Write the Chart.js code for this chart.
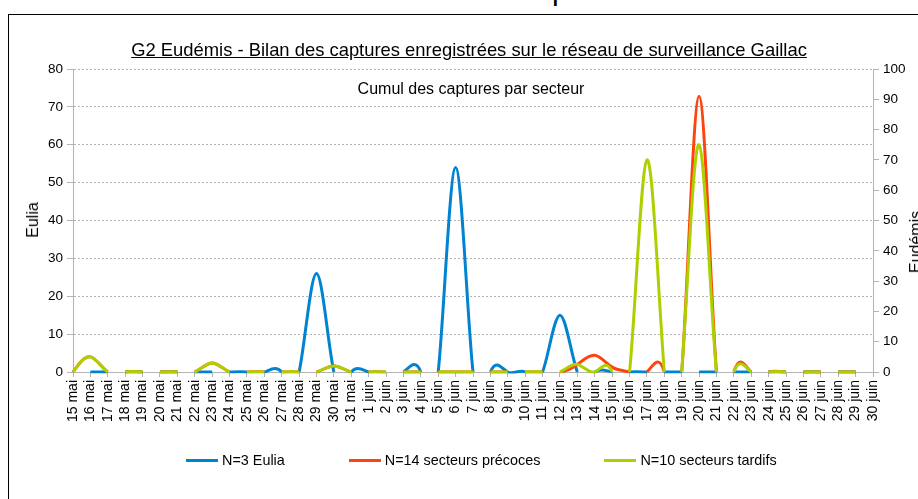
<!DOCTYPE html>
<html lang="fr">
<head>
<meta charset="utf-8">
<title>G2 Eudémis - Gaillac</title>
<script src="https://cdn.jsdelivr.net/npm/chart.js@4.4.1/dist/chart.umd.min.js"></script>
<style>
  html, body { margin: 0; padding: 0; background: #fff; }
  body { width: 918px; height: 499px; position: relative; overflow: hidden; font-family: "Liberation Sans", Arial, sans-serif; color: #000; }
  #frame { position: absolute; left: 8px; top: 14px; width: 1000px; height: 600px; border: 1px solid #000; box-sizing: border-box; }
  #chart { position: absolute; left: 0; top: 0; }
  .txt { position: absolute; white-space: nowrap; line-height: 1; }
  #cut { left: 552px; top: -25px; font-size: 30px; }
  #title { left: 0; width: 938px; top: 41px; text-align: center; font-size: 18.4px; text-decoration: underline; }
  #subtitle { left: 0; width: 942px; top: 81px; text-align: center; font-size: 16px; }
  #yTitle { left: 33px; top: 220px; font-size: 16px; transform: translate(-50%, -50%) rotate(-90deg); }
  #y1Title { left: 916px; top: 242px; font-size: 16px; transform: translate(-50%, -50%) rotate(-90deg); }
  #legend { position: absolute; left: 186px; top: 452px; display: flex; align-items: center; font-size: 14.4px; }
  #legend .item { display: flex; align-items: center; margin-right: 64px; }
  #legend .swatch { width: 32px; height: 3px; margin-right: 4px; }
</style>
</head>
<body>
<div class="txt" id="cut">p</div>
<div id="frame"></div>
<canvas id="chart" width="918" height="499"></canvas>
<div class="txt" id="title">G2 Eudémis - Bilan des captures enregistrées sur le réseau de surveillance Gaillac</div>
<div class="txt" id="subtitle">Cumul des captures par secteur</div>
<div class="txt" id="yTitle">Eulia</div>
<div class="txt" id="y1Title">Eudémis</div>
<div id="legend"></div>

<script>
const days = [
  "15 mai", "16 mai", "17 mai", "18 mai", "19 mai", "20 mai", "21 mai", "22 mai", "23 mai",
  "24 mai", "25 mai", "26 mai", "27 mai", "28 mai", "29 mai", "30 mai", "31 mai",
  "1 juin", "2 juin", "3 juin", "4 juin", "5 juin", "6 juin", "7 juin", "8 juin", "9 juin", "10 juin",
  "11 juin", "12 juin", "13 juin", "14 juin", "15 juin", "16 juin", "17 juin", "18 juin", "19 juin", "20 juin",
  "21 juin", "22 juin", "23 juin", "24 juin", "25 juin", "26 juin", "27 juin", "28 juin", "29 juin", "30 juin"
];

// N=3 Eulia (axe de gauche)
const eulia = [
  0, 0, 0, 0, 0, 0, 0, 0, 0, 0, 0, 0, 0, 0, 26, 0, 0,
  0, 0, 0, 0, 0, 54, 0, 0, 0, 0, 0, 15, 0, 0, 0, 0, 0, 0, 0, 0, 0, 0, 0, 0, 0, 0, 0, 0, 0, 0
];

// N=14 secteurs précoces (axe de droite)
const precoces = [
  0, 5, 0, 0, 0, 0, 0, 0, 3, 0, 0, 0, 0, 0, 0, 2, 0,
  0, 0, 0, 0, 0, 0, 0, 0, 0, 0, 0, 0, 2.5, 5.5, 1.6, 0, 0, 0, 0, 91, 0, 0, 0, 0, 0, 0, 0, 0, 0, 0
];

// N=10 secteurs tardifs (axe de droite)
const tardifs = [
  0, 5, 0, 0, 0, 0, 0, 0, 3, 0, 0, 0, 0, 0, 0, 2, 0,
  0, 0, 0, 0, 0, 0, 0, 0, 0, 0, 0, 0, 2.5, 0, 0, 0, 70, 0, 0, 75, 0, 0, 0, 0, 0, 0, 0, 0, 0, 0
];

const leftTicks = [0, 10, 20, 30, 40, 50, 60, 70, 80];
const rightTicks = [0, 10, 20, 30, 40, 50, 60, 70, 80, 90, 100];

const FONT = '"Liberation Sans", Arial, sans-serif';
const GRID = "#b3b3b3";

// second derivatives of a natural cubic spline (uniform spacing h)
function splineM(ys, h) {
  const n = ys.length - 1;
  const M = new Array(n + 1).fill(0);
  if (n < 2) return M;
  const cp = new Array(n).fill(0);
  const dp = new Array(n).fill(0);
  for (let i = 1; i < n; i++) {
    const rhs = 6 * (ys[i - 1] - 2 * ys[i] + ys[i + 1]) / (h * h);
    const b = 4 - (i > 1 ? cp[i - 1] : 0);
    cp[i] = 1 / b;
    dp[i] = (rhs - (i > 1 ? dp[i - 1] : 0)) / b;
  }
  M[n - 1] = dp[n - 1];
  for (let i = n - 2; i >= 1; i--) M[i] = dp[i] - cp[i] * M[i + 1];
  return M;
}

// like the spreadsheet: the curve is a natural spline and is cut where it goes under 0
function hideUnderZero(values) {
  const M = splineM(values, 1);
  return (ctx) => {
    const i = ctx.p0DataIndex, j = ctx.p1DataIndex;
    if (values[i] === 0 && values[j] === 0 && M[i] + M[j] > 0) return "transparent";
    return undefined;
  };
}

const naturalSpline = {
  id: "naturalSpline",
  beforeDatasetDraw(chart, args) {
    const meta = args.meta;
    const pts = meta.data;
    if (pts.length < 3) return;
    const h = pts[1].x - pts[0].x;
    const ys = pts.map((p) => p.y);
    const M = splineM(ys, h);
    const n = pts.length - 1;
    pts.forEach((p, i) => {
      const d = i < n
        ? (ys[i + 1] - ys[i]) / h - h * (2 * M[i] + M[i + 1]) / 6
        : (ys[n] - ys[n - 1]) / h + h * (M[n - 1] + 2 * M[n]) / 6;
      p.cp1x = p.x - h / 3;
      p.cp1y = p.y - d * h / 3;
      p.cp2x = p.x + h / 3;
      p.cp2y = p.y + d * h / 3;
    });
    meta.dataset._pointsUpdated = true;
  }
};

function series(label, data, color, axis, order) {
  return {
    label,
    data,
    yAxisID: axis,
    order,
    borderColor: color,
    backgroundColor: color,
    borderWidth: 3,
    pointRadius: 0,
    pointHoverRadius: 0,
    pointBorderWidth: 0,
    tension: 0.4,
    fill: false,
    clip: { left: 2, top: 5, right: 2, bottom: 1.5 },
    segment: { borderColor: hideUnderZero(data) }
  };
}

Chart.defaults.font.family = FONT;
Chart.defaults.color = "#000";

const chart = new Chart(document.getElementById("chart"), {
  type: "line",
  data: {
    labels: days,
    datasets: [
      series("N=3 Eulia", eulia, "#0084d1", "y", 2),
      series("N=14 secteurs précoces", precoces, "#ff420e", "y1", 1),
      series("N=10 secteurs tardifs", tardifs, "#aecf00", "y1", 0)
    ]
  },
  options: {
    responsive: false,
    animation: false,
    devicePixelRatio: 1,
    layout: { padding: { top: 69, left: 0, right: 0, bottom: 0 } },
    plugins: {
      legend: { display: false },
      title: { display: false },
      tooltip: { enabled: false }
    },
    scales: {
      x: {
        offset: false,
        grid: { drawOnChartArea: false, tickLength: 5, color: GRID },
        border: { color: GRID },
        ticks: { autoSkip: false, minRotation: 90, maxRotation: 90, padding: 3, font: { size: 14 }, color: "#000" },
        afterFit: (s) => { s.height = 127; }
      },
      y: {
        position: "left",
        min: leftTicks[0],
        max: leftTicks[leftTicks.length - 1],
        afterBuildTicks: (s) => { s.ticks = leftTicks.map((v) => ({ value: v })); },
        grid: { color: GRID, tickLength: 6 },
        border: { color: GRID, dash: [2, 2] },
        ticks: { padding: 4, font: { size: 13.5 }, color: "#000" },
        afterFit: (s) => { s.width = 73; }
      },
      y1: {
        position: "right",
        min: rightTicks[0],
        max: rightTicks[rightTicks.length - 1],
        afterBuildTicks: (s) => { s.ticks = rightTicks.map((v) => ({ value: v })); },
        grid: { drawOnChartArea: false, color: GRID, tickLength: 6 },
        border: { color: GRID },
        ticks: { padding: 4, font: { size: 13.5 }, color: "#000" },
        afterFit: (s) => { s.width = 45; }
      }
    }
  },
  plugins: [naturalSpline]
});

// legend built from the datasets, in their original order
const legendEl = document.getElementById("legend");
chart.data.datasets.forEach((ds) => {
  const item = document.createElement("div");
  item.className = "item";
  const sw = document.createElement("span");
  sw.className = "swatch";
  sw.style.background = ds.borderColor;
  const tx = document.createElement("span");
  tx.textContent = ds.label;
  item.appendChild(sw);
  item.appendChild(tx);
  legendEl.appendChild(item);
});
</script>
</body>
</html>
